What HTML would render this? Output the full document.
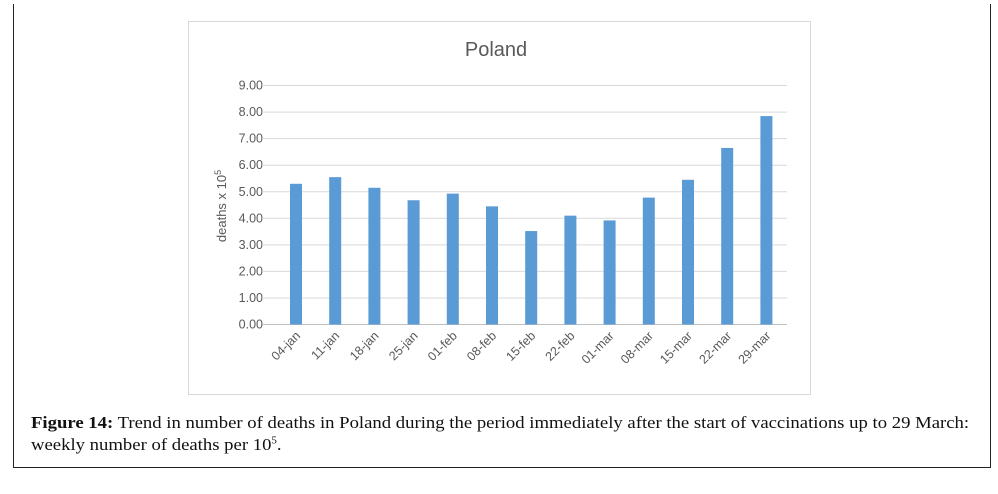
<!DOCTYPE html>
<html><head><meta charset="utf-8"><style>
body{margin:0;background:#fff;width:998px;height:494px;position:relative;overflow:hidden}
.outer{position:absolute;left:13px;top:4px;width:976px;height:463px;border:1px solid #222;border-top:none}
.cap{position:absolute;left:31px;font-family:"Liberation Serif",serif;font-size:17px;color:#111;transform-origin:0 0;transform:scaleX(1.1);white-space:nowrap}
</style></head><body>
<div class="outer"></div>
<svg width="998" height="494" style="position:absolute;left:0;top:0">
<rect x="188.5" y="21.5" width="622" height="373" fill="#fff" stroke="#d9d9d9"/>
<text x="496" y="56" text-anchor="middle" font-family="Liberation Sans,sans-serif" font-size="20" fill="#595959">Poland</text>
<g font-family="Liberation Sans,sans-serif" font-size="12.5" fill="#595959" text-anchor="end" id="g"></g>
<text transform="translate(226,206) rotate(-90)" text-anchor="middle" font-family="Liberation Sans,sans-serif" font-size="13" fill="#595959">deaths x 10<tspan dy="-5" font-size="9">5</tspan></text>
</svg>
<div class="cap" style="top:413px"><b>Figure 14:</b> Trend in number of deaths in Poland during the period immediately after the start of vaccinations up to 29 March:</div>
<div class="cap" style="top:435px">weekly number of deaths per 10<sup style="font-size:10px">5</sup>.</div>
<script>
var svg=document.querySelector('svg'),g=document.getElementById('g'),ns='http://www.w3.org/2000/svg';
function el(t,a,p){var e=document.createElementNS(ns,t);for(var k in a)e.setAttribute(k,a[k]);(p||svg).appendChild(e);return e}
var y0=324.5,dy=26.55;
for(var i=0;i<=9;i++){var y=y0-i*dy;el('line',{x1:262,x2:787,y1:y,y2:y,stroke:i?'#d9d9d9':'#bfbfbf'});var t=el('text',{x:263,y:y+4},g);t.textContent=i.toFixed(2);}
var v=[5.3,5.55,5.15,4.68,4.93,4.45,3.52,4.1,3.92,4.78,5.45,6.65,7.85];
var l=['04-jan','11-jan','18-jan','25-jan','01-feb','08-feb','15-feb','22-feb','01-mar','08-mar','15-mar','22-mar','29-mar'];
v.forEach(function(d,i){var x=296+i*39.2;el('rect',{x:x-6,y:y0-d*dy,width:12,height:d*dy,fill:'#5b9bd5'});
var t=el('text',{x:x+5,y:y0+12,transform:'rotate(-45 '+(x+5)+' '+(y0+12)+')','text-anchor':'end','font-family':'Liberation Sans,sans-serif','font-size':'12.5',fill:'#595959'});t.textContent=l[i];});
</script>
</body></html>
